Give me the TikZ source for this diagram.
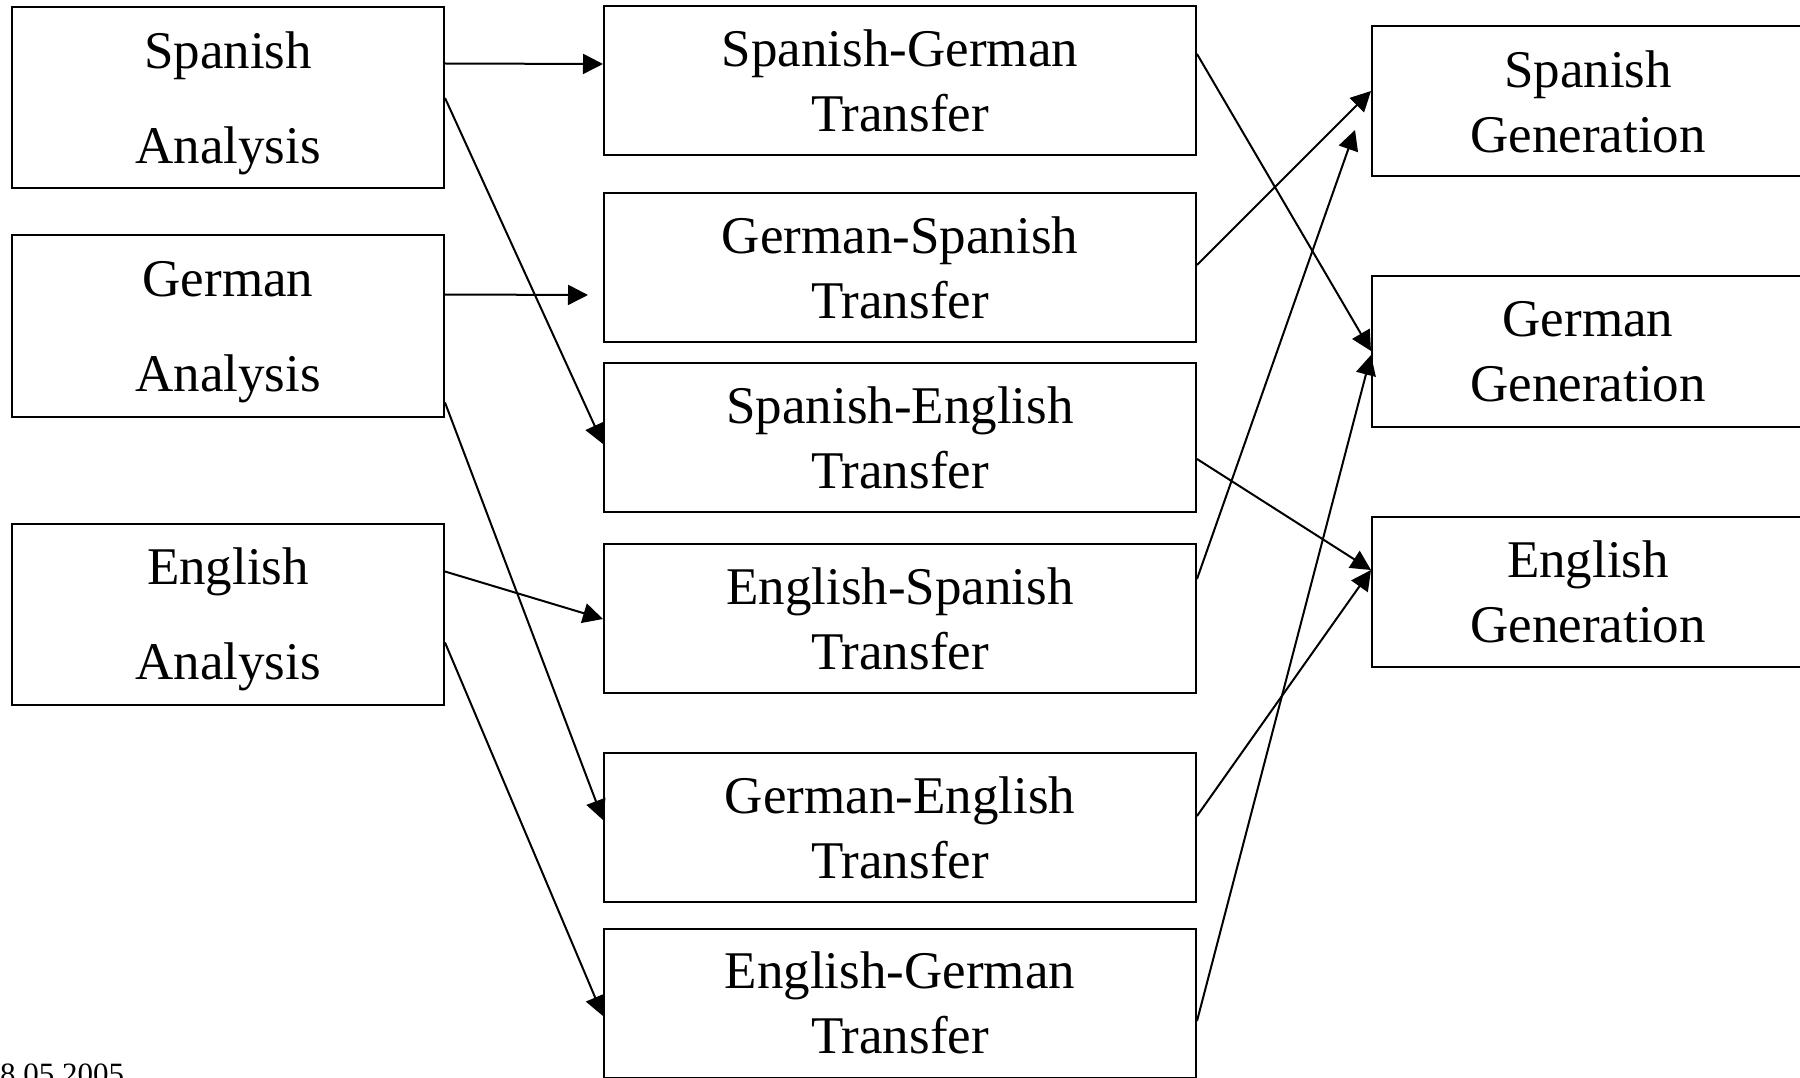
\documentclass[tikz,border=0pt]{standalone}
\usepackage{fontspec}
\setmainfont{Liberation Serif}
\usetikzlibrary{arrows.meta}
\tikzset{
  box/.style={draw, line width=2pt, inner sep=0pt, align=center, font=\fontsize{53}{65}\selectfont},
  abox/.style={box, minimum width=432pt, minimum height=181pt, font=\fontsize{53}{95}\selectfont},
  tbox/.style={box, minimum width=592pt, minimum height=149pt},
  gbox/.style={box, minimum width=432pt, minimum height=150pt},
  conn/.style={line width=2pt, -{Triangle[length=20pt,width=20pt]}}
}
\begin{document}
\begin{tikzpicture}[x=1pt,y=-1pt]
\useasboundingbox (0,0) rectangle (1800,1078);
\clip (0,0) rectangle (1800,1078);
% analysis
\node[abox] (sa) at (228,98) {\rule{0pt}{48pt}Spanish\\Analysis};
\node[abox] (ga) at (228,326) {\rule{0pt}{48pt}German\\Analysis};
\node[abox] (ea) at (228,614) {\rule{0pt}{48pt}English\\Analysis};
% transfer
\node[tbox] (sg) at (900,80.5) {Spanish-German\\Transfer};
\node[tbox] (gs) at (900,267.5) {German-Spanish\\Transfer};
\node[tbox] (se) at (900,437.5) {Spanish-English\\Transfer};
\node[tbox] (es) at (900,618.5) {English-Spanish\\Transfer};
\node[tbox] (ge) at (900,827.5) {German-English\\Transfer};
\node[tbox] (eg) at (900,1003) {English-German\\Transfer};
% generation
\node[gbox] (sgen) at (1588,101.5) {Spanish\\Generation};
\node[gbox] (ggen) at (1588,351.5) {German\\Generation};
\node[gbox] (egen) at (1588,592) {English\\Generation};
% date
\node[anchor=base west, inner sep=0pt, font=\fontsize{31}{31}\selectfont] (date) at (0,1084) {8.05.2005};
% free ends
\coordinate (gsin) at (588,295);
\coordinate (sgenin) at (1355,130);
% left connectors
\draw[conn] ([yshift=-57pt]sa.north east) -- ([yshift=-59pt]sg.north west);
\draw[conn] (sa.east) -- ([yshift=-82pt]se.north west);
\draw[conn] ([yshift=-60pt]ga.north east) -- (gsin);
\draw[conn] ([yshift=15pt]ga.south east) -- ([yshift=-68pt]ge.north west);
\draw[conn] ([yshift=-49pt]ea.north east) -- ([yshift=-76pt]es.north west);
\draw[conn] ([yshift=-120pt]ea.north east) -- ([yshift=-88.5pt]eg.north west);
% right connectors
\draw[conn] ([yshift=-49pt]sg.north east) -- ([yshift=-75.5pt]ggen.north west);
\draw[conn] ([yshift=-73pt]gs.north east) -- ([yshift=-65.5pt]sgen.north west);
\draw[conn] ([yshift=-97pt]se.north east) -- ([yshift=-54pt]egen.north west);
\draw[conn] ([yshift=-36pt]es.north east) -- (sgenin);
\draw[conn] ([yshift=-64pt]ge.north east) -- ([yshift=-54pt]egen.north west);
\draw[conn] ([yshift=-93.5pt]eg.north east) -- ([yshift=-79.5pt]ggen.north west);
\end{tikzpicture}
\end{document}
